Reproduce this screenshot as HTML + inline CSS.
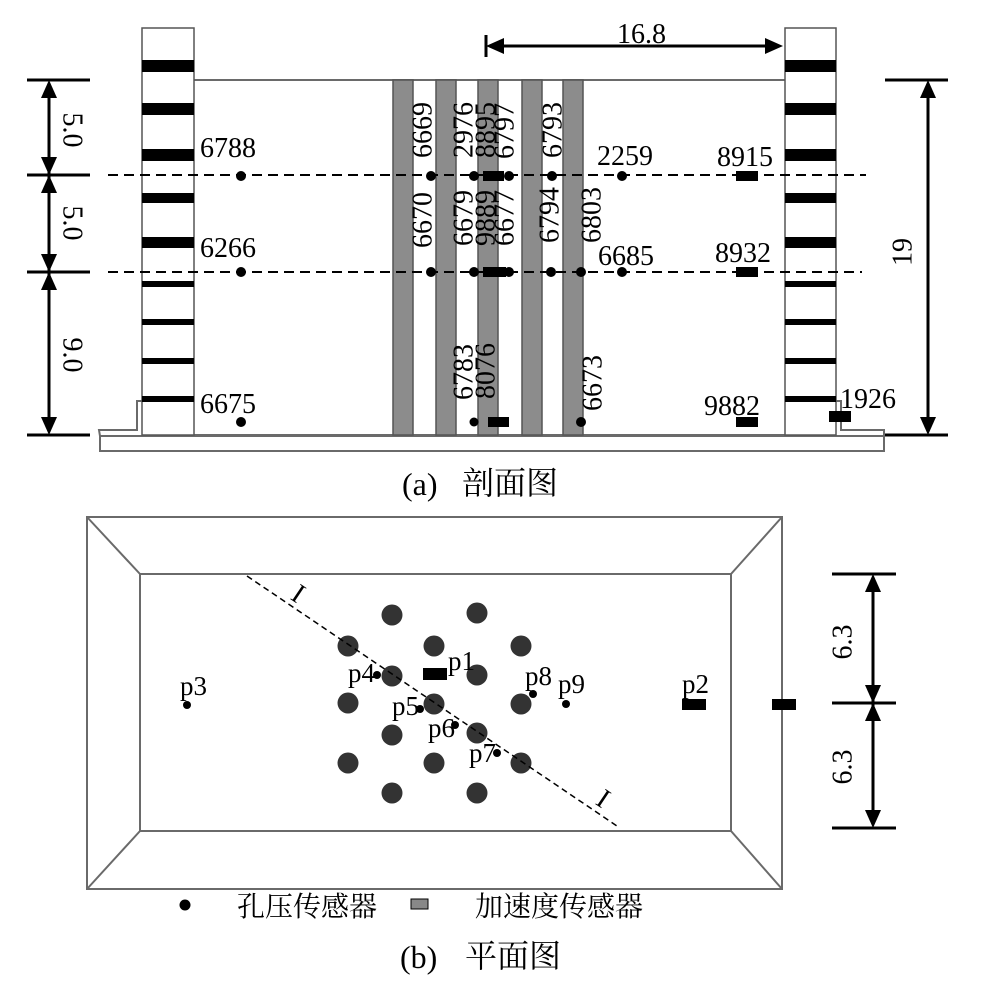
<!DOCTYPE html>
<html><head><meta charset="utf-8"><style>
html,body{margin:0;padding:0;background:#fff;}
svg{display:block;}
text{font-family:"Liberation Serif","Noto Serif CJK SC",serif;fill:#000;}
</style></head><body>
<svg width="987" height="981" viewBox="0 0 987 981" xmlns="http://www.w3.org/2000/svg">
<rect width="987" height="981" fill="#fff"/>

<!-- ===== (a) section ===== -->
<g fill="none" stroke="#6a6a6a" stroke-width="2">
<rect x="100" y="436" width="784" height="15" fill="#fff"/>
<path d="M100,436 L99,430 L137,430 L137,401 L142,401"/>
<path d="M836,401 L841,401 L841,430 L884,430 L884,436"/>
<line x1="194" y1="80" x2="785" y2="80"/>
<line x1="194" y1="435" x2="785" y2="435"/>
</g>
<g fill="#8c8c8c" stroke="#555" stroke-width="1.5">
<rect x="393" y="80" width="20" height="355"/>
<rect x="436" y="80" width="20" height="355"/>
<rect x="478" y="80" width="20" height="355"/>
<rect x="522" y="80" width="20" height="355"/>
<rect x="563" y="80" width="20" height="355"/>
</g>
<g stroke="#555" stroke-width="1.5" fill="#fff">
<rect x="142" y="28" width="52" height="407"/>
<rect x="785" y="28" width="51" height="407"/>
</g>
<g fill="#000">
<rect x="142" y="60" width="52" height="12"/><rect x="142" y="103" width="52" height="12"/><rect x="142" y="149" width="52" height="12"/><rect x="142" y="193" width="52" height="10"/><rect x="142" y="237" width="52" height="11"/><rect x="142" y="281" width="52" height="6"/><rect x="142" y="319" width="52" height="6"/><rect x="142" y="358" width="52" height="6"/><rect x="142" y="396" width="52" height="6"/>
<rect x="785" y="60" width="51" height="12"/><rect x="785" y="103" width="51" height="12"/><rect x="785" y="149" width="51" height="12"/><rect x="785" y="193" width="51" height="10"/><rect x="785" y="237" width="51" height="11"/><rect x="785" y="281" width="51" height="6"/><rect x="785" y="319" width="51" height="6"/><rect x="785" y="358" width="51" height="6"/><rect x="785" y="396" width="51" height="6"/>
</g>
<g stroke="#000" stroke-width="2" stroke-dasharray="10,6">
<line x1="108" y1="175" x2="866" y2="175"/>
<line x1="108" y1="272" x2="862" y2="272"/>
</g>
<g fill="#000">
<circle cx="241" cy="176" r="5"/><circle cx="431" cy="176" r="5"/><circle cx="474" cy="176" r="5"/><circle cx="509" cy="176" r="5"/><circle cx="552" cy="176" r="5"/><circle cx="622" cy="176" r="5"/>
<rect x="483" y="171" width="21" height="10"/><rect x="736" y="171" width="22" height="10"/>
<circle cx="241" cy="272" r="5"/><circle cx="431" cy="272" r="5"/><circle cx="474" cy="272" r="5"/><circle cx="509" cy="272" r="5"/><circle cx="551" cy="272" r="5"/><circle cx="581" cy="272" r="5"/><circle cx="622" cy="272" r="5"/>
<rect x="483" y="267" width="23" height="10"/><rect x="736" y="267" width="22" height="10"/>
<circle cx="241" cy="422" r="5"/><circle cx="474" cy="422" r="4.5"/><circle cx="581" cy="422" r="5"/>
<rect x="488" y="417" width="21" height="10"/><rect x="736" y="417" width="22" height="10"/><rect x="829" y="411" width="22" height="11"/>
</g>
<g font-size="28">
<text x="200" y="157">6788</text>
<text x="200" y="257">6266</text>
<text x="200" y="413">6675</text>
<text x="597" y="165">2259</text>
<text x="717" y="166">8915</text>
<text x="598" y="265">6685</text>
<text x="715" y="262">8932</text>
<text x="704" y="415">9882</text>
<text x="840" y="408">1926</text>
<text x="617" y="43">16.8</text>
</g>
<g font-size="28" text-anchor="middle" dominant-baseline="central">
<text transform="translate(423,130) rotate(-90)">6669</text>
<text transform="translate(464,130) rotate(-90)">2976</text>
<text transform="translate(486,130) rotate(-90)">8895</text>
<text transform="translate(505,131) rotate(-90)">6797</text>
<text transform="translate(553,130) rotate(-90)">6793</text>
<text transform="translate(423,220) rotate(-90)">6670</text>
<text transform="translate(464,218) rotate(-90)">6679</text>
<text transform="translate(486,218) rotate(-90)">9889</text>
<text transform="translate(505,218) rotate(-90)">6677</text>
<text transform="translate(550,215) rotate(-90)">6794</text>
<text transform="translate(592,215) rotate(-90)">6803</text>
<text transform="translate(464,372) rotate(-90)">6783</text>
<text transform="translate(486,371) rotate(-90)">8076</text>
<text transform="translate(593,383) rotate(-90)">6673</text>
<text transform="translate(903,252) rotate(-90)">19</text>
<text transform="translate(72,130) rotate(90)">5.0</text>
<text transform="translate(72,223) rotate(90)">5.0</text>
<text transform="translate(72,355) rotate(90)">9.0</text>
</g>
<g stroke="#000" stroke-width="3">
<line x1="27" y1="80" x2="90" y2="80"/>
<line x1="27" y1="175" x2="90" y2="175"/>
<line x1="27" y1="272" x2="90" y2="272"/>
<line x1="27" y1="435" x2="90" y2="435"/>
<line x1="49" y1="90" x2="49" y2="425"/>
<line x1="885" y1="80" x2="948" y2="80"/>
<line x1="885" y1="435" x2="948" y2="435"/>
<line x1="928" y1="90" x2="928" y2="425"/>
<line x1="486" y1="35" x2="486" y2="57"/>
<line x1="495" y1="46" x2="773" y2="46"/>
</g>
<g fill="#000">
<path d="M49,80 L41,98 L57,98 Z"/><path d="M49,175 L41,157 L57,157 Z"/>
<path d="M49,175 L41,193 L57,193 Z"/><path d="M49,272 L41,254 L57,254 Z"/>
<path d="M49,272 L41,290 L57,290 Z"/><path d="M49,435 L41,417 L57,417 Z"/>
<path d="M928,80 L920,98 L936,98 Z"/><path d="M928,435 L920,417 L936,417 Z"/>
<path d="M486,46 L504,38 L504,54 Z"/><path d="M783,46 L765,38 L765,54 Z"/>
</g>
<text x="402" y="495" font-size="32">(a)</text>
<text x="462" y="494" font-size="32">剖面图</text>

<!-- ===== (b) plan ===== -->
<g fill="none" stroke="#6a6a6a" stroke-width="2">
<rect x="87" y="517" width="695" height="372"/>
<rect x="140" y="574" width="591" height="257"/>
<line x1="87" y1="517" x2="140" y2="574"/>
<line x1="782" y1="517" x2="731" y2="574"/>
<line x1="87" y1="889" x2="140" y2="831"/>
<line x1="782" y1="889" x2="731" y2="831"/>
</g>
<g fill="#333">
<circle cx="392" cy="615" r="10.5"/><circle cx="477" cy="613" r="10.5"/>
<circle cx="348" cy="646" r="10.5"/><circle cx="434" cy="646" r="10.5"/><circle cx="521" cy="646" r="10.5"/>
<circle cx="392" cy="676" r="10.5"/><circle cx="477" cy="675" r="10.5"/>
<circle cx="348" cy="703" r="10.5"/><circle cx="434" cy="704" r="10.5"/><circle cx="521" cy="704" r="10.5"/>
<circle cx="392" cy="735" r="10.5"/><circle cx="477" cy="733" r="10.5"/>
<circle cx="348" cy="763" r="10.5"/><circle cx="434" cy="763" r="10.5"/><circle cx="521" cy="763" r="10.5"/>
<circle cx="392" cy="793" r="10.5"/><circle cx="477" cy="793" r="10.5"/>
</g>
<line x1="247" y1="576" x2="617" y2="826" stroke="#000" stroke-width="1.5" stroke-dasharray="6,4"/>
<g font-size="28" text-anchor="middle" dominant-baseline="central">
<text transform="translate(298,594) rotate(34)">I</text>
<text transform="translate(603,799) rotate(34)">I</text>
</g>
<g fill="#000">
<circle cx="187" cy="705" r="4"/><circle cx="377" cy="675" r="4"/><circle cx="420" cy="709" r="4"/><circle cx="455" cy="725" r="4"/><circle cx="497" cy="753" r="4"/><circle cx="533" cy="694" r="4"/><circle cx="566" cy="704" r="4"/>
<rect x="423" y="668" width="24" height="12"/>
<rect x="682" y="699" width="24" height="11"/>
<rect x="772" y="699" width="24" height="11"/>
</g>
<g font-size="27">
<text x="448" y="670">p1</text>
<text x="682" y="693">p2</text>
<text x="180" y="695">p3</text>
<text x="348" y="682">p4</text>
<text x="392" y="715">p5</text>
<text x="428" y="737">p6</text>
<text x="469" y="762">p7</text>
<text x="525" y="685">p8</text>
<text x="558" y="693">p9</text>
</g>
<g stroke="#000" stroke-width="3">
<line x1="832" y1="574" x2="896" y2="574"/>
<line x1="832" y1="703" x2="896" y2="703"/>
<line x1="832" y1="828" x2="896" y2="828"/>
<line x1="873" y1="584" x2="873" y2="818"/>
</g>
<g fill="#000">
<path d="M873,574 L865,592 L881,592 Z"/><path d="M873,703 L865,685 L881,685 Z"/>
<path d="M873,703 L865,721 L881,721 Z"/><path d="M873,828 L865,810 L881,810 Z"/>
</g>
<g font-size="28" text-anchor="middle" dominant-baseline="central">
<text transform="translate(843,642) rotate(-90)">6.3</text>
<text transform="translate(843,767) rotate(-90)">6.3</text>
</g>
<circle cx="185" cy="905" r="5.5" fill="#000"/>
<text x="237" y="916" font-size="28">孔压传感器</text>
<rect x="411" y="899" width="17" height="10" fill="#888" stroke="#000" stroke-width="1"/>
<text x="475" y="916" font-size="28">加速度传感器</text>
<text x="400" y="968" font-size="32">(b)</text>
<text x="465" y="967" font-size="32">平面图</text>
</svg>
</body></html>
